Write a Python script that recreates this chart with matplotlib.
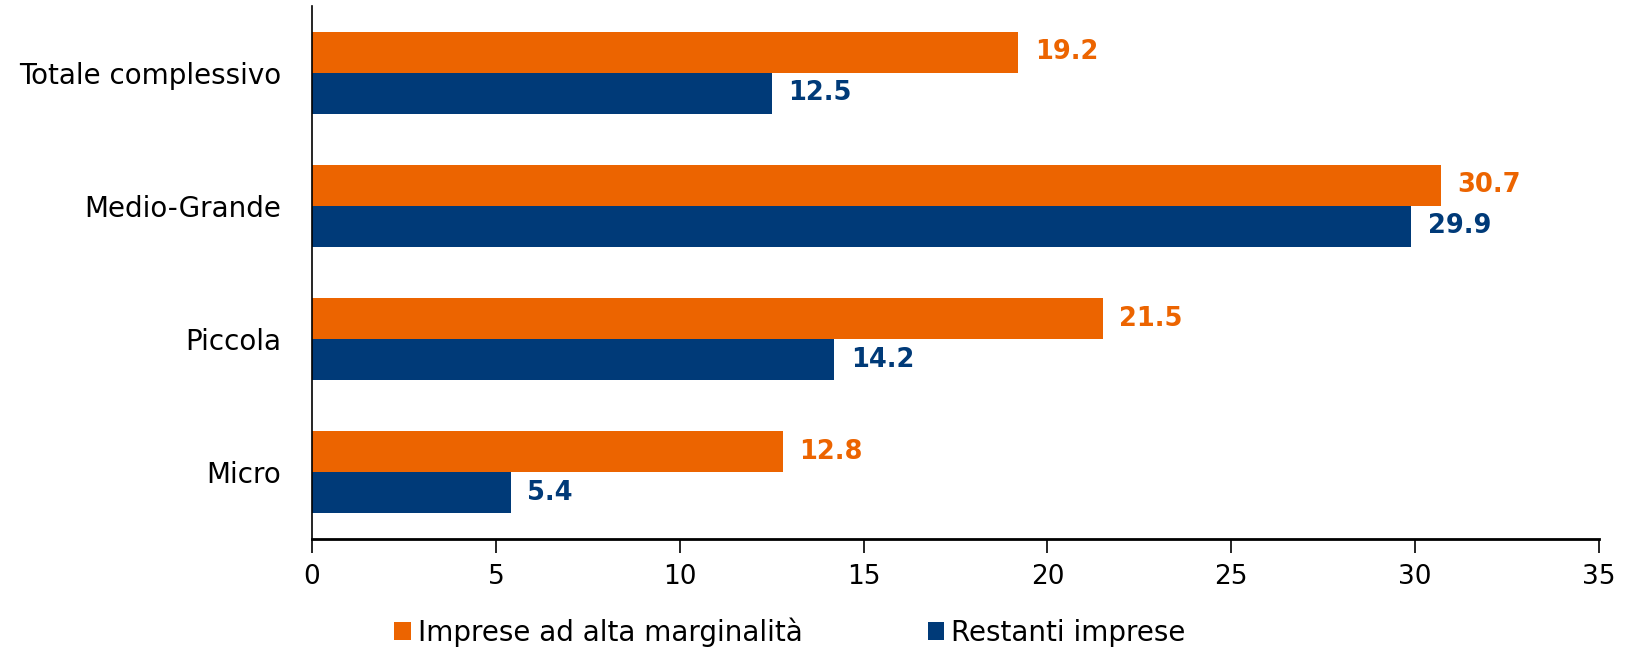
import numpy as np
import matplotlib
matplotlib.use("Agg")
import matplotlib.pyplot as plt

categories = ["Micro", "Piccola", "Medio-Grande", "Totale complessivo"]
alta_marginalita = [12.8, 21.5, 30.7, 19.2]
restanti = [5.4, 14.2, 29.9, 12.5]
series_names = ["Imprese ad alta marginalità", "Restanti imprese"]
xticks = [0, 5, 10, 15, 20, 25, 30, 35]

ORANGE = "#EC6400"
BLUE = "#003A78"

plt.rcParams["font.family"] = ["DejaVu Sans"]

fig = plt.figure(figsize=(16.32, 6.52), dpi=100)
ax = fig.add_axes([312 / 1632, 1 - 539 / 652, (1599 - 312) / 1632, (539 - 6) / 652])

y = np.arange(len(categories))
h = 0.307
b1 = ax.barh(y + h / 2, alta_marginalita, height=h, color=ORANGE, label=series_names[0])
b2 = ax.barh(y - h / 2, restanti, height=h, color=BLUE, label=series_names[1])

# value labels, same colour as their bar
for bars, color in ((b1, ORANGE), (b2, BLUE)):
    for bar in bars:
        w = bar.get_width()
        ax.annotate(f"{w:.1f}", (w, bar.get_y() + bar.get_height() / 2),
                    xytext=(12, 0), textcoords="offset points",
                    va="center", ha="left", color=color,
                    fontsize=18.5, fontweight="bold")

ax.set_xlim(0, 35)
ax.set_ylim(-0.5, 3.5)
ax.set_xticks(xticks)
ax.set_yticks(y)
ax.set_yticklabels(categories)
ax.tick_params(axis="x", length=10, width=1.2, labelsize=19, pad=8, direction="out")
ax.tick_params(axis="y", length=0, labelsize=20, pad=22)

for side in ("top", "right"):
    ax.spines[side].set_visible(False)
ax.spines["left"].set_linewidth(1.2)
ax.spines["bottom"].set_linewidth(2.0)

fig.legend(handles=[b1, b2], loc="center", bbox_to_anchor=(790 / 1632, 1 - 632 / 652),
           ncol=2, frameon=False, fontsize=20, handlelength=0.6, handleheight=0.6,
           handletextpad=0.25, columnspacing=4.5)

fig.savefig("out.png", dpi=100)
